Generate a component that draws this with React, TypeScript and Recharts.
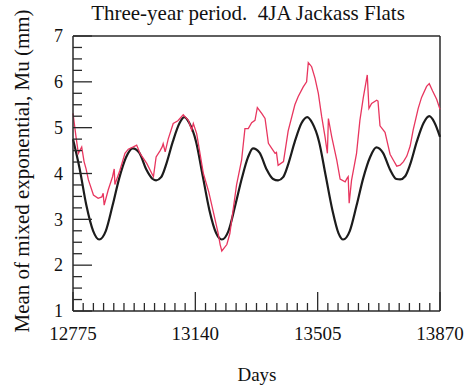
import React from "react";
import { LineChart, Line, XAxis, YAxis, ReferenceLine } from "recharts";

// smooth fitted curve (black)
const blackDays = [
  12775, 12795, 12815, 12835, 12853, 12873, 12893, 12913, 12933, 12953, 12973, 12993, 13013, 13023,
  13038, 13053, 13073, 13093, 13107, 13122, 13142, 13162, 13182, 13202, 13219, 13239, 13259, 13279,
  13297, 13312, 13332, 13352, 13372, 13387, 13402, 13417, 13437, 13457, 13474, 13489, 13509, 13529,
  13549, 13567, 13581, 13601, 13621, 13641, 13661, 13680, 13700, 13720, 13740, 13751, 13766, 13781,
  13801, 13821, 13838, 13853, 13870,
];
const blackVals = [
  4.75, 4.1, 3.3, 2.75, 2.56, 2.75, 3.3, 3.9, 4.35, 4.55, 4.45, 4.1, 3.88, 3.85,
  3.92, 4.2, 4.7, 5.1, 5.23, 5.1, 4.7, 3.95, 3.2, 2.7, 2.56, 2.75, 3.3, 3.9,
  4.35, 4.55, 4.45, 4.1, 3.88, 3.85, 3.92, 4.2, 4.7, 5.1, 5.23, 5.1, 4.7, 3.95,
  3.2, 2.7, 2.56, 2.75, 3.3, 3.9, 4.35, 4.57, 4.45, 4.1, 3.88, 3.87, 3.94, 4.2,
  4.7, 5.1, 5.25, 5.12, 4.8,
];

// observed running mean (red)
const redDays = [
  12775, 12784, 12791, 12801, 12808, 12814, 12821, 12836, 12850, 12861, 12865, 12868, 12880, 12893,
  12898, 12900, 12915, 12930, 12940, 12955, 12965, 12975, 12995, 13015, 13023, 13035, 13041, 13044,
  13050, 13059, 13074, 13088, 13104, 13119, 13129, 13134, 13144, 13164, 13180, 13194, 13208, 13214,
  13219, 13234, 13243, 13263, 13278, 13288, 13298, 13308, 13318, 13325, 13338, 13348, 13358, 13368,
  13378, 13382, 13387, 13403, 13417, 13437, 13447, 13462, 13472, 13477, 13487, 13497, 13507, 13517,
  13527, 13534, 13537, 13547, 13562, 13572, 13587, 13593, 13596, 13599, 13606, 13621, 13631, 13641,
  13653, 13658, 13666, 13681, 13685, 13691, 13706, 13716, 13721, 13731, 13741, 13751, 13761, 13771,
  13781, 13790, 13805, 13815, 13830, 13838, 13848, 13860, 13870,
];
const redVals = [
  5.31, 4.8, 4.44, 4.58, 4.26, 4.1, 3.86, 3.53, 3.46, 3.49, 3.57, 3.31, 3.64, 3.93,
  4.1, 3.76, 4.07, 4.44, 4.53, 4.58, 4.62, 4.44, 4.22, 3.93, 4.36, 4.5, 4.58, 4.65,
  4.47, 4.75, 5.09, 5.15, 5.28, 5.16, 4.95, 5.09, 4.87, 4.0, 3.6, 3.15, 2.7, 2.45,
  2.31, 2.45, 2.69, 3.75, 4.29, 4.98, 4.98, 5.11, 5.16, 5.44, 5.31, 5.2, 4.66, 4.55,
  4.44, 4.46, 4.18, 4.26, 4.93, 5.5, 5.68, 5.89, 6.0, 6.42, 6.33, 6.08, 5.75, 5.24,
  4.8, 4.44, 5.2, 4.8, 4.29, 3.88, 3.82, 3.9, 3.93, 3.35, 3.85, 4.44, 5.16, 5.65,
  6.15, 5.42, 5.53, 5.6, 5.58, 5.04, 4.9, 4.58, 4.42, 4.29, 4.16, 4.18, 4.26, 4.38,
  4.6, 4.95, 5.42, 5.66, 5.9, 5.96, 5.8, 5.62, 5.4,
];

const xLabelTicks = [12775, 13140, 13505, 13870];
const yLabelTicks = [1, 2, 3, 4, 5, 6, 7];

const blackData = blackDays.map((d, i) => ({ d, v: blackVals[i] }));
const redData = redDays.map((d, i) => ({ d, v: redVals[i] }));

// monthly minor ticks on x, quarter units on y
const xTicks: number[] = [];
for (let k = 0; k <= 36; k++) xTicks.push(12775 + (k * 365) / 12);
const yTicks: number[] = [];
for (let k = 0; k <= 24; k++) yTicks.push(1 + k * 0.25);

const frame = "#2a2a2a";
const serif = "'Liberation Serif', 'Times New Roman', serif";

const XTick = (props: any) => {
  const { x, y, payload } = props;
  const major = xLabelTicks.some((t) => Math.abs(t - payload.value) < 0.5);
  return (
    <g>
      <line x1={x} x2={x} y1={y} y2={y - (major ? 19 : 8)} stroke={frame} strokeWidth={1.3} />
      {major && (
        <text x={x} y={y + 29} textAnchor="middle" fontSize={19} fontFamily={serif} fill="#111">
          {Math.round(payload.value)}
        </text>
      )}
    </g>
  );
};

const YTick = (props: any) => {
  const { x, y, payload } = props;
  const major = yLabelTicks.includes(payload.value);
  return (
    <g>
      <line x1={x} x2={x + (major ? 19 : 9)} y1={y} y2={y} stroke={frame} strokeWidth={1.3} />
      {major && (
        <text x={x - 10} y={y} dy="0.35em" textAnchor="end" fontSize={18} fontFamily={serif} fill="#111">
          {payload.value}
        </text>
      )}
    </g>
  );
};

export default function App() {
  return (
    <div style={{ position: "absolute", left: 0, top: 0, background: "#fff" }}>
      <LineChart width={468} height={388} margin={{ top: 36, right: 28, bottom: 0, left: 0 }}>
        <text x={248} y={20} textAnchor="middle" fontSize={21} fontFamily={serif} fill="#111" style={{ whiteSpace: "pre" }}>
          {"Three-year period.  4JA Jackass Flats"}
        </text>
        <text
          x={29}
          y={171}
          transform="rotate(-90, 29, 171)"
          textAnchor="middle"
          fontSize={21}
          fontFamily={serif}
          fill="#111"
        >
          Mean of mixed exponential, Mu (mm)
        </text>
        <text x={257} y={381} textAnchor="middle" fontSize={19} fontFamily={serif} fill="#111">
          Days
        </text>
        <XAxis
          dataKey="d"
          type="number"
          domain={[12775, 13870]}
          ticks={xTicks}
          interval={0}
          height={77}
          tickSize={0}
          tickMargin={0}
          tickLine={false}
          tick={<XTick />}
          axisLine={{ stroke: frame, strokeWidth: 1.5 }}
        />
        <YAxis
          type="number"
          domain={[1, 7]}
          ticks={yTicks}
          interval={0}
          width={73}
          tickSize={0}
          tickMargin={0}
          tickLine={false}
          tick={<YTick />}
          axisLine={{ stroke: frame, strokeWidth: 1.5 }}
        />
        <ReferenceLine y={7} stroke={frame} strokeWidth={1.5} />
        <ReferenceLine x={13870} stroke={frame} strokeWidth={1.5} />
        <Line
          data={blackData}
          dataKey="v"
          type="monotone"
          stroke="#1c1c1c"
          strokeWidth={2.2}
          dot={false}
          isAnimationActive={false}
        />
        <Line
          data={redData}
          dataKey="v"
          type="linear"
          stroke="#e8365f"
          strokeWidth={1.3}
          dot={false}
          isAnimationActive={false}
        />
      </LineChart>
    </div>
  );
}
